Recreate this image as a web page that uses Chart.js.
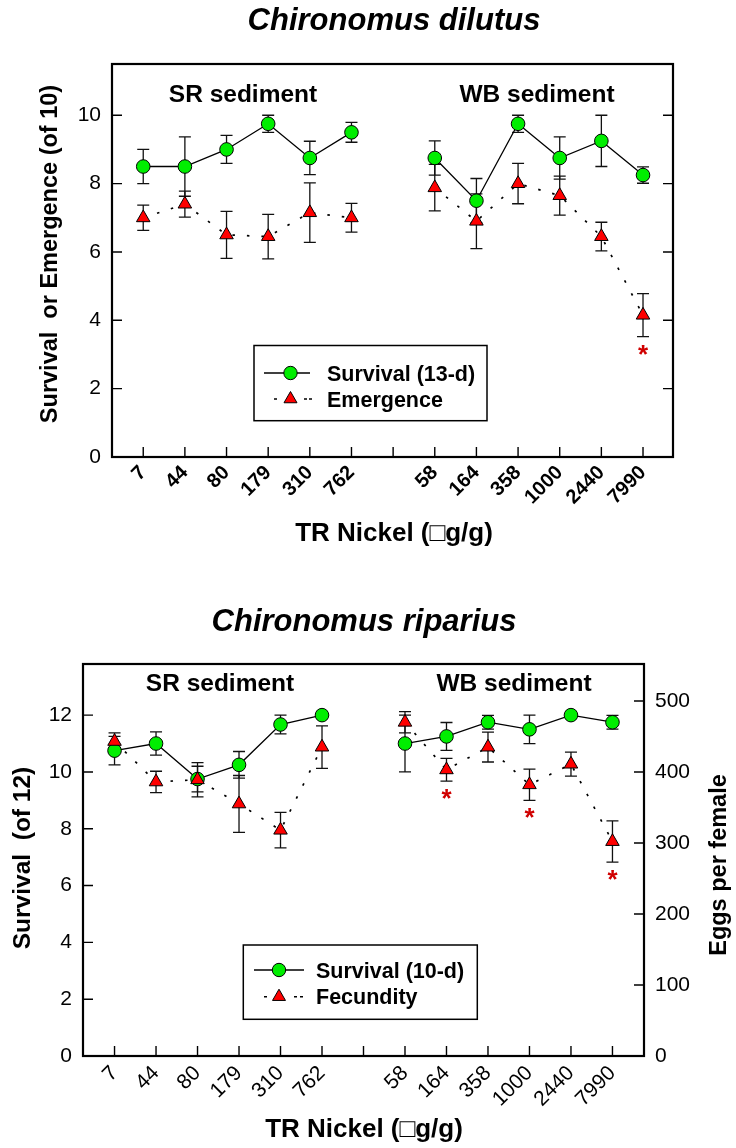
<!DOCTYPE html>
<html><head><meta charset="utf-8">
<script src="https://cdn.jsdelivr.net/npm/chart.js@4.4.1/dist/chart.umd.min.js"></script>
<style>
html,body{margin:0;padding:0;background:#fff;}
#wrap{position:relative;width:736px;height:1148px;overflow:hidden;}
.box{position:absolute;left:0;width:736px;height:574px;}
</style></head><body>
<div id="wrap">
<div class="box" style="top:0"><canvas id="c1" width="736" height="574"></canvas></div>
<div class="box" style="top:574px"><canvas id="c2" width="736" height="574"></canvas></div>
</div>
<script>
// ---------- data ----------
const srLabels = ['7','44','80','179','310','762'];
const wbLabels = ['58','164','358','1000','2440','7990'];
const xLabels = [...srLabels, '', ...wbLabels];

// Chironomus dilutus (of 10)
const dilSurvSR    = [8.5, 8.5, 9.0, 9.75, 8.75, 9.5];
const dilSurvSRerr = [0.5, 0.87, 0.41, 0.25, 0.49, 0.29];
const dilSurvWB    = [8.75, 7.5, 9.75, 8.75, 9.25, 8.25];
const dilSurvWBerr = [0.5, 0.65, 0.25, 0.62, 0.75, 0.24];
const dilEmerSR    = [7.0, 7.4, 6.5, 6.45, 7.15, 7.0];
const dilEmerSRerr = [0.37, 0.38, 0.69, 0.65, 0.87, 0.42];
const dilEmerWB    = [7.88, 6.9, 8.0, 7.65, 6.45, 4.15];
const dilEmerWBerr = [0.68, 0.8, 0.59, 0.57, 0.42, 0.63];
const dilEmerWBsig = [false, false, false, false, false, true];
const dilYTicks = [0, 2, 4, 6, 8, 10];

// Chironomus riparius (of 12) and eggs per female
const ripSurvSR    = [10.75, 11.0, 9.75, 10.25, 11.67, 12.0];
const ripSurvSRerr = [0.5, 0.41, 0.45, 0.47, 0.33, 0];
const ripSurvWB    = [11.0, 11.25, 11.75, 11.5, 12.0, 11.75];
const ripSurvWBerr = [1.0, 0.49, 0.24, 0.5, 0, 0.24];
const ripFecSR     = [443, 386, 389, 355, 318, 435];
const ripFecSRerr  = [12, 15, 24, 40, 25, 30];
const ripFecWB     = [470, 403, 435, 382, 411, 302];
const ripFecWBerr  = [15, 16, 21, 22, 17, 29];
const ripFecWBsig  = [false, true, false, true, false, true];
const ripYTicks  = [0, 2, 4, 6, 8, 10, 12];
const ripY2Ticks = [0, 100, 200, 300, 400, 500];

// ---------- helpers ----------
const FONT = "'Liberation Sans', Arial, Helvetica, sans-serif";
Chart.defaults.font.family = FONT;
Chart.defaults.color = '#000';

function pts(sr, wb) {
  return [...sr.map((v, i) => ({x: i, y: v})), {x: 6, y: null}, ...wb.map((v, i) => ({x: 7 + i, y: v}))];
}
function cat(sr, wb, gap) { return [...sr, gap, ...wb]; }

const errPlugin = {
  id: 'errbars',
  beforeDatasetsDraw(chart) {
    const ctx = chart.ctx;
    chart.data.datasets.forEach((ds, di) => {
      if (!ds.errs) return;
      const meta = chart.getDatasetMeta(di);
      const ys = chart.scales[ds.yAxisID || 'y'];
      ctx.save();
      ctx.strokeStyle = '#111';
      ctx.lineWidth = 1.3;
      ds.data.forEach((p, j) => {
        const e = ds.errs[j];
        if (p.y == null || !e) return;
        const x = meta.data[j].x;
        const t = ys.getPixelForValue(p.y + e), b = ys.getPixelForValue(p.y - e);
        ctx.beginPath();
        ctx.moveTo(x, t); ctx.lineTo(x, b);
        ctx.moveTo(x - 6, t); ctx.lineTo(x + 6, t);
        ctx.moveTo(x - 6, b); ctx.lineTo(x + 6, b);
        ctx.stroke();
      });
      ctx.restore();
    });
  },
  afterDatasetsDraw(chart) {
    const ctx = chart.ctx;
    chart.data.datasets.forEach((ds, di) => {
      if (!ds.sig) return;
      const meta = chart.getDatasetMeta(di);
      const ys = chart.scales[ds.yAxisID || 'y'];
      ctx.save();
      ctx.fillStyle = '#d00000';
      const fs = 26;
      ctx.font = 'bold ' + fs + 'px ' + FONT;
      ctx.textAlign = 'center';
      ctx.textBaseline = 'alphabetic';
      ds.data.forEach((p, j) => {
        if (!ds.sig[j] || p.y == null) return;
        const x = meta.data[j].x;
        const b = ys.getPixelForValue(p.y - (ds.errs[j] || 0));
        ctx.fillText('*', x, b + 11 + 0.57 * fs);
      });
      ctx.restore();
    });
  }
};

const framePlugin = {
  id: 'frame',
  afterDraw(chart) {
    const o = chart.options.plugins.frame;
    const ctx = chart.ctx, a = chart.chartArea;
    ctx.save();
    ctx.strokeStyle = '#000';
    ctx.lineWidth = 1.4;
    const L = 10;
    ctx.beginPath();
    chart.scales.y.ticks.forEach(t => {
      const y = chart.scales.y.getPixelForValue(t.value);
      ctx.moveTo(a.left, y); ctx.lineTo(a.left + L, y);
    });
    const rs = chart.scales[o.rightScale];
    rs.ticks.forEach(t => {
      const y = rs.getPixelForValue(t.value);
      ctx.moveTo(a.right, y); ctx.lineTo(a.right - L, y);
    });
    chart.scales.x.ticks.forEach(t => {
      const x = chart.scales.x.getPixelForValue(t.value);
      ctx.moveTo(x, a.bottom); ctx.lineTo(x, a.bottom - L);
    });
    ctx.stroke();
    ctx.lineWidth = 2.2;
    ctx.strokeRect(a.left, a.top, a.right - a.left, a.bottom - a.top);
    // texts
    (o.texts || []).forEach(t => {
      ctx.save();
      ctx.font = t.font + ' ' + FONT;
      ctx.fillStyle = '#000';
      ctx.textAlign = t.align || 'center';
      ctx.textBaseline = 'alphabetic';
      ctx.translate(t.x, t.y);
      if (t.rot) ctx.rotate(t.rot);
      ctx.fillText(t.text, 0, 0);
      ctx.restore();
    });
    // legend
    const lg = o.legend;
    if (lg) {
      ctx.lineWidth = 1.5;
      ctx.strokeRect(lg.x0, lg.y0, lg.x1 - lg.x0, lg.y1 - lg.y0);
      ctx.lineWidth = 1.3;
      ctx.beginPath();
      ctx.moveTo(lg.l0, lg.r1); ctx.lineTo(lg.l1, lg.r1); ctx.stroke();
      ctx.beginPath(); ctx.arc(lg.m, lg.r1, 6.7, 0, Math.PI * 2);
      ctx.fillStyle = '#00ee00'; ctx.fill(); ctx.lineWidth = 1; ctx.stroke();
      ctx.lineWidth = 1.6;
      ctx.beginPath();
      lg.dots.forEach(d => { ctx.moveTo(d[0], lg.r2); ctx.lineTo(d[1], lg.r2); });
      ctx.stroke();
      const r = 7.5, cy = lg.r2;
      ctx.beginPath();
      ctx.moveTo(lg.m, cy - r);
      ctx.lineTo(lg.m + r * Math.sin(2 * Math.PI / 3), cy - r * Math.cos(2 * Math.PI / 3));
      ctx.lineTo(lg.m + r * Math.sin(4 * Math.PI / 3), cy - r * Math.cos(4 * Math.PI / 3));
      ctx.closePath();
      ctx.fillStyle = '#ff0000'; ctx.fill(); ctx.lineWidth = 1; ctx.stroke();
      ctx.fillStyle = '#000';
      ctx.font = 'bold 21.5px ' + FONT;
      ctx.textAlign = 'left';
      ctx.fillText(lg.t1, lg.tx, lg.r1 + 7.5);
      ctx.fillText(lg.t2, lg.tx, lg.r2 + 7.5);
    }
    ctx.restore();
  }
};

function survDs(label, data, errs) {
  return {label, data, errs, yAxisID: 'y', order: 2, spanGaps: false,
    borderColor: '#000', borderWidth: 1.3, pointStyle: 'circle', pointRadius: 6.8,
    pointBackgroundColor: '#00ee00', pointBorderColor: '#000', pointBorderWidth: 1};
}
function triDs(label, data, errs, sig, axis) {
  return {label, data, errs, sig, yAxisID: axis, order: 1, spanGaps: false,
    borderColor: '#000', borderWidth: 1.7, borderDash: [2.5, 12],
    pointStyle: 'triangle', pointRadius: 7.8,
    pointBackgroundColor: '#ff0000', pointBorderColor: '#000', pointBorderWidth: 1};
}
function xScale(min, max, h, bold, size, pad) {
  return {type: 'linear', min, max,
    afterBuildTicks: s => { s.ticks = xLabels.map((_, i) => ({value: i})); },
    afterFit: s => { s.height = h; },
    ticks: {autoSkip: false, minRotation: 45, maxRotation: 45, padding: pad,
      callback: v => xLabels[v] ?? '', font: {size, weight: bold ? 'bold' : 'normal'}, color: '#000'},
    grid: {display: false, drawTicks: false}, border: {display: false}};
}
function yScale(min, max, w, tickVals, pos) {
  return {type: 'linear', position: pos, min, max,
    afterBuildTicks: s => { s.ticks = tickVals.map(v => ({value: v})); },
    afterFit: s => { s.width = w; },
    ticks: {padding: 11, font: {size: 21}, color: '#000'},
    grid: {display: false, drawTicks: false}, border: {display: false}};
}

// ---------- top chart ----------
new Chart(document.getElementById('c1'), {
  type: 'line',
  data: {datasets: [
    survDs('Survival (13-d)', pts(dilSurvSR, dilSurvWB), cat(dilSurvSRerr, dilSurvWBerr, null)),
    triDs('Emergence', pts(dilEmerSR, dilEmerWB), cat(dilEmerSRerr, dilEmerWBerr, null),
      cat(srLabels.map(() => false), dilEmerWBsig, false), 'y')
  ]},
  options: {
    responsive: false, animation: false, devicePixelRatio: 1,
    layout: {padding: {left: 0, right: 63, top: 64, bottom: 0}},
    scales: {
      x: xScale(-0.75, 12.72, 117, true, 20, 4),
      y: yScale(0, 11.5, 112, dilYTicks, 'left')
    },
    plugins: {
      legend: {display: false}, tooltip: {enabled: false},
      frame: {
        rightScale: 'y',
        texts: [
          {text: 'Chironomus dilutus', x: 394, y: 30, font: 'italic bold 31px'},
          {text: 'SR sediment', x: 243, y: 102, font: 'bold 24.5px'},
          {text: 'WB sediment', x: 537, y: 102, font: 'bold 24.5px'},
          {text: 'Survival  or Emergence (of 10)', x: 57, y: 254, rot: -Math.PI / 2, font: 'bold 23.5px'},
          {text: 'TR Nickel (\u25A1g/g)', x: 394, y: 541, font: 'bold 26px'}
        ],
        legend: {x0: 254, y0: 345.5, x1: 487, y1: 420.7, l0: 264, l1: 310, m: 290.5, r1: 373, r2: 399,
          dots: [[274, 277], [304, 307], [309, 312]], tx: 327, t1: 'Survival (13-d)', t2: 'Emergence'}
      }
    }
  },
  plugins: [errPlugin, framePlugin]
});

// ---------- bottom chart ----------
new Chart(document.getElementById('c2'), {
  type: 'line',
  data: {datasets: [
    survDs('Survival (10-d)', pts(ripSurvSR, ripSurvWB), cat(ripSurvSRerr, ripSurvWBerr, null)),
    triDs('Fecundity', pts(ripFecSR, ripFecWB), cat(ripFecSRerr, ripFecWBerr, null),
      cat(srLabels.map(() => false), ripFecWBsig, false), 'y2')
  ]},
  options: {
    responsive: false, animation: false, devicePixelRatio: 1,
    layout: {padding: {left: 0, right: 0, top: 90, bottom: 0}},
    scales: {
      x: xScale(-0.76, 12.76, 92, false, 21, 5),
      y: yScale(0, 13.8, 83, ripYTicks, 'left'),
      y2: yScale(0, 552, 92, ripY2Ticks, 'right')
    },
    plugins: {
      legend: {display: false}, tooltip: {enabled: false},
      frame: {
        rightScale: 'y2',
        texts: [
          {text: 'Chironomus riparius', x: 364, y: 57, font: 'italic bold 31px'},
          {text: 'SR sediment', x: 220, y: 117, font: 'bold 24.5px'},
          {text: 'WB sediment', x: 514, y: 117, font: 'bold 24.5px'},
          {text: 'Survival  (of 12)', x: 30, y: 284, rot: -Math.PI / 2, font: 'bold 24.5px'},
          {text: 'Eggs per female', x: 726, y: 291, rot: -Math.PI / 2, font: 'bold 23.5px'},
          {text: 'TR Nickel (\u25A1g/g)', x: 364, y: 563, font: 'bold 26px'}
        ],
        legend: {x0: 243.3, y0: 371, x1: 477.3, y1: 445.3, l0: 254, l1: 304, m: 279, r1: 396, r2: 422.7,
          dots: [[264, 267], [294, 297], [300, 303]], tx: 316, t1: 'Survival (10-d)', t2: 'Fecundity'}
      }
    }
  },
  plugins: [errPlugin, framePlugin]
});
</script>
</body></html>
